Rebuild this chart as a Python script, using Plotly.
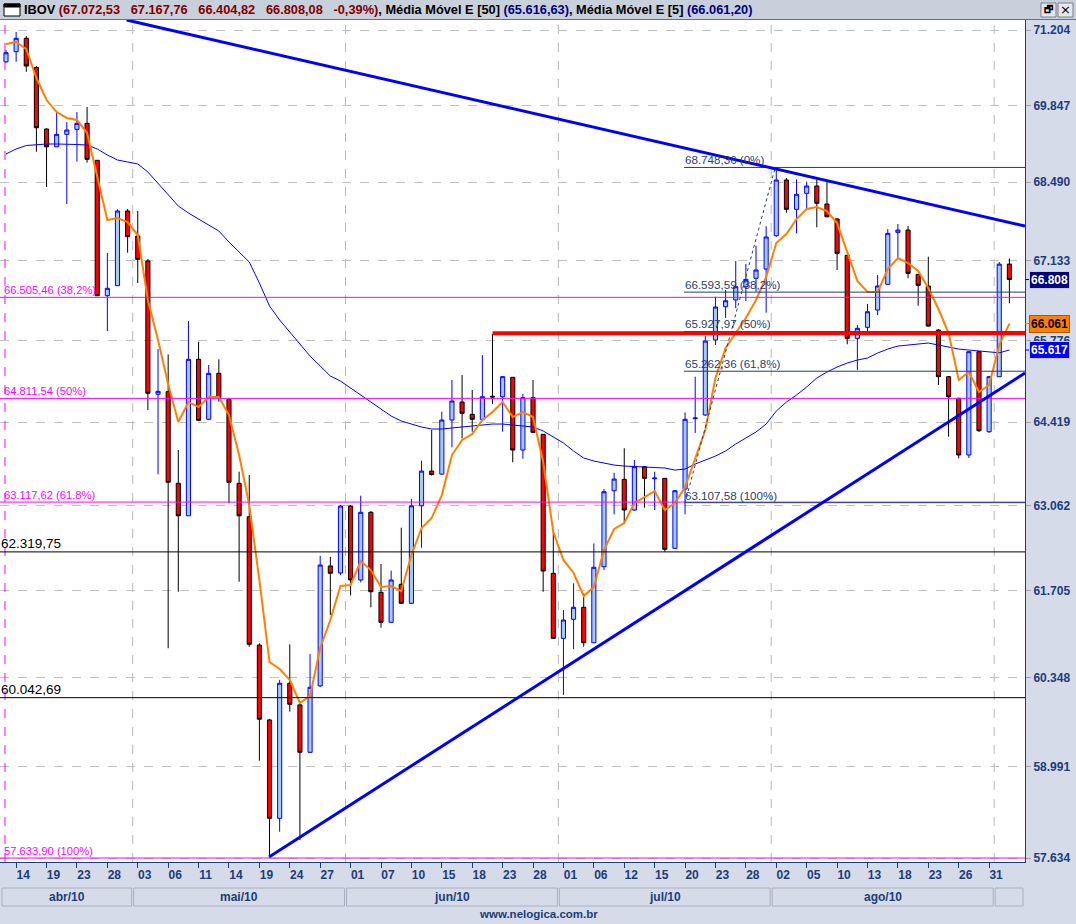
import math
import plotly.graph_objects as go

# ---------------- data ----------------
dates = [
    "2010-04-13", "2010-04-14", "2010-04-15", "2010-04-16", "2010-04-19", "2010-04-20", "2010-04-22", "2010-04-23", "2010-04-26", "2010-04-27",
    "2010-04-28", "2010-04-29", "2010-04-30", "2010-05-03", "2010-05-04", "2010-05-05", "2010-05-06", "2010-05-07", "2010-05-10", "2010-05-11",
    "2010-05-12", "2010-05-13", "2010-05-14", "2010-05-17", "2010-05-18", "2010-05-19", "2010-05-20", "2010-05-21", "2010-05-24", "2010-05-25",
    "2010-05-26", "2010-05-27", "2010-05-28", "2010-05-31", "2010-06-01", "2010-06-02", "2010-06-04", "2010-06-07", "2010-06-08", "2010-06-09",
    "2010-06-10", "2010-06-11", "2010-06-14", "2010-06-15", "2010-06-16", "2010-06-17", "2010-06-18", "2010-06-21", "2010-06-22", "2010-06-23",
    "2010-06-24", "2010-06-25", "2010-06-28", "2010-06-29", "2010-06-30", "2010-07-01", "2010-07-02", "2010-07-05", "2010-07-06", "2010-07-07",
    "2010-07-08", "2010-07-12", "2010-07-13", "2010-07-14", "2010-07-15", "2010-07-16", "2010-07-19", "2010-07-20", "2010-07-21", "2010-07-22",
    "2010-07-23", "2010-07-26", "2010-07-27", "2010-07-28", "2010-07-29", "2010-07-30", "2010-08-02", "2010-08-03", "2010-08-04", "2010-08-05",
    "2010-08-06", "2010-08-09", "2010-08-10", "2010-08-11", "2010-08-12", "2010-08-13", "2010-08-16", "2010-08-17", "2010-08-18", "2010-08-19",
    "2010-08-20", "2010-08-23", "2010-08-24", "2010-08-25", "2010-08-26", "2010-08-27", "2010-08-30", "2010-08-31", "2010-09-01", "2010-09-02",
]

opens = [
    70629, 70810, 71053, 70527, 69426, 69112, 69332, 69420, 69527, 68874,
    66533, 66703, 67988, 67555, 67125, 64879, 64922, 63421, 62897, 65461,
    64466, 65227, 64796, 63421, 62881, 60855, 59702, 58221, 60264, 59932,
    59211, 60223, 62096, 61985, 63054, 61874, 62953, 61680, 61209, 61806,
    61507, 63058, 63619, 63570, 64454, 64751, 64548, 64466, 64846, 64839,
    65161, 63962, 64823, 64219, 61980, 60959, 61256, 61444, 60891, 62085,
    63301, 63485, 62990, 63690, 63495, 63501, 62377, 63328, 64477, 64537,
    65784, 66346, 66460, 66686, 66829, 66988, 67560, 68528, 68017, 68295,
    68423, 68109, 67849, 67223, 65812, 65998, 66290, 66727, 67618, 67658,
    66897, 66698, 65952, 65171, 64813, 63881, 65588, 64262, 65171, 67072.53,
]
highs = [
    70841, 71168, 71095, 70552, 69438, 69728, 69550, 69728, 69817, 68879,
    67262, 68017, 68022, 67988, 67159, 65633, 65544, 63962, 66104, 65755,
    65366, 65461, 64817, 63609, 63555, 60881, 59717, 60315, 60866, 59947,
    60716, 62255, 62239, 63071, 63071, 63220, 62974, 62127, 62021, 62706,
    63167, 63787, 64290, 64591, 65116, 65199, 64950, 65532, 65885, 65182,
    65166, 64884, 65116, 64224, 62642, 61402, 61822, 61664, 62456, 63328,
    63592, 63990, 63799, 63701, 63609, 63506, 63312, 64580, 65171, 65851,
    66516, 66630, 67125, 67074, 67388, 67722, 68748, 68563, 68540, 68498,
    68540, 68498, 67866, 67228, 66036, 66392, 66886, 67675, 67762, 67727,
    66902, 67199, 65969, 65182, 64817, 65599, 65599, 65182, 67108, 67167.76,
]
lows = [
    70606, 70629, 70449, 69025, 68405, 69107, 68109, 68849, 68832, 66528,
    65935, 66703, 67268, 66749, 64619, 63566, 60805, 61689, 62892, 64437,
    64454, 64756, 63098, 61847, 60829, 59084, 57654, 58023, 59829, 57900,
    59201, 60208, 61323, 61953, 61630, 61838, 61444, 61125, 61198, 61496,
    61496, 62386, 63547, 63558, 64006, 64153, 64262, 64454, 64718, 64262,
    63762, 63820, 64241, 61689, 60948, 60085, 60789, 60829, 60887, 62032,
    62920, 62786, 62974, 63027, 62990, 62323, 62366, 62920, 64241, 64520,
    65700, 66155, 66324, 66443, 66601, 66245, 67543, 67958, 67601, 68017,
    67705, 67875, 66971, 65712, 65282, 65923, 66205, 66715, 67171, 66829,
    66363, 66011, 65033, 64180, 63827, 63832, 64257, 64241, 65166, 66404.82,
]
closes = [
    70792, 71053, 70552, 69449, 69112, 69332, 69408, 69527, 68891, 66533,
    66659, 67988, 67543, 67154, 64895, 64928, 63437, 62897, 65461, 64449,
    65227, 64823, 63437, 62897, 60866, 59713, 58221, 60264, 59942, 59211,
    60202, 62111, 61980, 63054, 61874, 62953, 61689, 61209, 61874, 61507,
    63058, 63619, 63563, 64454, 64767, 64565, 64466, 64839, 64834, 65171,
    63962, 64823, 64252, 62016, 60959, 61245, 61444, 60891, 62075, 63285,
    63490, 62990, 63690, 63501, 63506, 62361, 63301, 64466, 64487, 65767,
    66341, 66448, 66686, 66812, 66971, 67538, 68528, 68017, 68278, 68423,
    68121, 67889, 67257, 65812, 65981, 66261, 66698, 67601, 67658, 66914,
    66710, 66019, 65171, 64839, 63881, 65588, 64279, 65171, 67072, 66808.08,
]
ema5 = [
    70950, 70986, 70859, 70336, 69942, 69728, 69622, 69586, 69355, 68616,
    67831, 67866, 67796, 67572, 66460, 65784, 65050, 64421, 64751, 64669,
    64834, 64834, 64536, 63880, 63070, 61874, 60592, 60484, 60315, 59962,
    60069, 60809, 61245, 61779, 61795, 62175, 62032, 61763, 61779, 61700,
    62270, 62701, 62861, 63231, 63880, 64126, 64224, 64454, 64586, 64751,
    64503, 64586, 64503, 63766, 62637, 62191, 61985, 61622, 61763, 62350,
    62685, 62781, 63103, 63199, 63296, 62990, 63103, 63360, 63832, 64290,
    65149, 65650, 65902, 66155, 66460, 66851, 67434, 67589, 67848, 68022,
    68057, 67988, 67779, 67280, 66783, 66596, 66596, 66988, 67176, 67091,
    66954, 66664, 66307, 65902, 65116, 65249, 64917, 65033, 65700, 66061.20,
]
ema50 = [
    68985, 69073, 69134, 69152, 69161, 69161, 69161, 69152, 69143, 69073,
    68967, 68879, 68844, 68809, 68668, 68475, 68266, 68074, 67953, 67849,
    67744, 67641, 67452, 67280, 67108, 66749, 66358, 66121, 65918, 65700,
    65516, 65349, 65182, 65099, 64983, 64867, 64751, 64635, 64520, 64438,
    64388, 64339, 64306, 64306, 64323, 64339, 64356, 64372, 64388, 64388,
    64372, 64356, 64339, 64274, 64175, 64077, 63946, 63832, 63783, 63750,
    63717, 63701, 63693, 63685, 63685, 63669, 63636, 63652, 63734, 63799,
    63864, 63946, 64061, 64159, 64257, 64388, 64602, 64751, 64867, 65000,
    65149, 65249, 65332, 65399, 65449, 65482, 65566, 65633, 65683, 65700,
    65717, 65734, 65700, 65666, 65633, 65616, 65599, 65583, 65570, 65616.63,
]

ytick_vals = [57634, 58991, 60348, 61705, 63062, 64419, 65776, 67133, 68490, 69847, 71204]
ytick_text = ["57.634", "58.991", "60.348", "61.705", "63.062", "64.419", "65.776", "67.133", "68.490", "69.847", "71.204"]
month_names = {4: "abr/10", 5: "mai/10", 6: "jun/10", 7: "jul/10", 8: "ago/10", 9: ""}

fib1_levels = [66505.46, 64811.54, 63117.62, 57633.90]
fib1_labels = ["66.505,46 (38,2%)", "64.811,54 (50%)", "63.117,62 (61,8%)", "57.633,90 (100%)"]
fib2_levels = [68748.36, 66593.59, 65927.97, 65262.36, 63107.58]
fib2_labels = ["68.748,36 (0%)", "66.593,59 (38,2%)", "65.927,97 (50%)", "65.262,36 (61,8%)", "63.107,58 (100%)"]
fib2_start = 66.9
fib2_diag = [(67.0, 63107.58), (75.9, 68748.36)]
support_levels = [62319.75, 60042.69]
support_labels = ["62.319,75", "60.042,69"]
resist_level = 65900
resist_start = 48
trend_down = [(11.9, 71386), (100.54, 67726)]
trend_up = [(25.95, 57649), (100.54, 65232)]

last_close = 66808.08
last_ema5 = 66061.20
last_ema50 = 65616.63

# ---------------- geometry helpers (layout only) ----------------
W, H = 1076, 924
ML, MR, MT, MB = 0, 51, 20, 62
PW, PH = W - ML - MR, H - MT - MB
XR = [-0.592, 100.54]
YR = [4.760235, 4.853613]


def px(p):
    return (p - ML) / PW


def py(p):
    return (H - MB - p) / PH


def ix(i):
    return (i - XR[0]) / (XR[1] - XR[0])


NAVY = "#1b3d7a"
FONT = "Liberation Sans"

x = list(range(len(dates)))
tickvals = list(range(1, 98, 3))
ticktext = [dates[i][8:10] for i in tickvals]

fig = go.Figure()
fig.add_trace(go.Candlestick(
    x=x, open=opens, high=highs, low=lows, close=closes,
    increasing=dict(line=dict(color="#0000ff", width=1), fillcolor="#a6caf0"),
    decreasing=dict(line=dict(color="#000000", width=1), fillcolor="#ff0000"),
    whiskerwidth=0, hoverinfo="skip", showlegend=False,
))
fig.add_trace(go.Scatter(x=x, y=ema50, mode="lines", line=dict(color="#0000ff", width=1),
                         hoverinfo="skip", showlegend=False))
fig.add_trace(go.Scatter(x=x, y=ema5, mode="lines", line=dict(color="#ff8000", width=2),
                         hoverinfo="skip", showlegend=False))

shapes = []
anns = []

# month separator grid lines
month_bounds = [i - 0.5 for i in range(1, len(dates)) if dates[i][5:7] != dates[i - 1][5:7]]
for b in month_bounds:
    shapes.append(dict(type="line", xref="x", yref="paper", x0=b, x1=b, y0=0, y1=1,
                       line=dict(color="#b8b8b8", width=1, dash="dash"), layer="below"))

# fib 1 (magenta)
shapes.append(dict(type="line", xref="x", yref="paper", x0=-0.1, x1=-0.1, y0=0, y1=1,
                   line=dict(color="#ff00ff", width=1, dash="dash"), layer="above"))
for lv, lb in zip(fib1_levels, fib1_labels):
    shapes.append(dict(type="line", xref="paper", yref="y", x0=0, x1=1, y0=lv, y1=lv,
                       line=dict(color="#ff00ff", width=1), layer="above"))
    anns.append(dict(xref="paper", yref="y", x=px(3), y=math.log10(lv), text=lb, showarrow=False,
                     xanchor="left", yanchor="bottom", borderpad=0,
                     font=dict(family=FONT, size=11.2, color="#ff00ff")))

# support lines (black)
for lv, lb in zip(support_levels, support_labels):
    shapes.append(dict(type="line", xref="paper", yref="y", x0=0, x1=1, y0=lv, y1=lv,
                       line=dict(color="#000000", width=1), layer="above"))
    anns.append(dict(xref="paper", yref="y", x=px(0), y=math.log10(lv), text=lb, showarrow=False,
                     xanchor="left", yanchor="bottom", borderpad=0,
                     font=dict(family=FONT, size=13.5, color="#000000")))

# fib 2 (navy)
for lv, lb in zip(fib2_levels, fib2_labels):
    shapes.append(dict(type="line", xref="x", yref="y", x0=fib2_start, x1=XR[1], y0=lv, y1=lv,
                       line=dict(color="#1f3f70", width=1), layer="above"))
    anns.append(dict(xref="x", yref="y", x=fib2_start, y=math.log10(lv), text=lb, showarrow=False,
                     xanchor="left", yanchor="bottom", borderpad=0,
                     font=dict(family=FONT, size=11.6, color="#1f3f70")))
shapes.append(dict(type="line", xref="x", yref="y", x0=fib2_diag[0][0], y0=fib2_diag[0][1],
                   x1=fib2_diag[1][0], y1=fib2_diag[1][1],
                   line=dict(color="#1f3f70", width=1, dash="dot"), layer="above"))

# resistance red line
shapes.append(dict(type="line", xref="x", yref="y", x0=resist_start, x1=XR[1], y0=resist_level,
                   y1=resist_level, line=dict(color="#ff0000", width=4), layer="above"))

# trend lines
for tl in (trend_down, trend_up):
    shapes.append(dict(type="line", xref="x", yref="y", x0=tl[0][0], y0=tl[0][1], x1=tl[1][0],
                       y1=tl[1][1], line=dict(color="#0000ff", width=3), layer="above"))

# header bar
shapes.append(dict(type="rect", xref="paper", yref="paper", x0=px(0), x1=px(W), y0=py(19), y1=py(0),
                   fillcolor="#c8d0dc", line=dict(width=0), layer="below"))
shapes.append(dict(type="line", xref="paper", yref="paper", x0=px(0), x1=px(W), y0=py(19.5), y1=py(19.5),
                   line=dict(color="#707070", width=1)))
# window icon
shapes.append(dict(type="rect", xref="paper", yref="paper", x0=px(4), x1=px(20), y0=py(16), y1=py(4),
                   fillcolor="#ffffff", line=dict(color="#000000", width=1)))
shapes.append(dict(type="rect", xref="paper", yref="paper", x0=px(4), x1=px(20), y0=py(7), y1=py(4),
                   fillcolor="#000000", line=dict(color="#000000", width=1)))
# window buttons
for bx in (1041, 1058):
    shapes.append(dict(type="rect", xref="paper", yref="paper", x0=px(bx), x1=px(bx + 15), y0=py(17),
                       y1=py(3), fillcolor="#e4e8ee", line=dict(color="#808080", width=1)))
anns.append(dict(xref="paper", yref="paper", x=px(1048.5), y=py(10), text="<b>🗗</b>", showarrow=False,
                 xanchor="center", yanchor="middle",
                 font=dict(family="DejaVu Sans", size=10, color="#000000")))
anns.append(dict(xref="paper", yref="paper", x=px(1065.5), y=py(10), text="×", showarrow=False,
                 xanchor="center", yanchor="middle",
                 font=dict(family="DejaVu Sans", size=13, color="#000000")))

hdr = ("<b>IBOV <span style='color:#800000'>(67.072,53\u00a0\u00a0 67.167,76\u00a0\u00a0 66.404,82\u00a0\u00a0 "
       "66.808,08\u00a0\u00a0 -0,39%)</span>, Média Móvel E [50] <span style='color:#000080'>(65.616,63)</span>, "
       "Média Móvel E [5] <span style='color:#000080'>(66.061,20)</span></b>")
anns.append(dict(xref="paper", yref="paper", x=px(22), y=py(10), text=hdr, showarrow=False,
                 xanchor="left", yanchor="middle", font=dict(family=FONT, size=12.8, color="#000000")))

# month boxes
starts = [0] + [i for i in range(1, len(dates)) if dates[i][5:7] != dates[i - 1][5:7]]
ends = starts[1:] + [len(dates)]
for s, e in zip(starts, ends):
    left = max(ix(s - 0.5), px(1))
    right = min(ix(e - 0.5), px(1024))
    if e == len(dates):
        right = px(1024)
    shapes.append(dict(type="rect", xref="paper", yref="paper", x0=left + px(1), x1=right - px(1),
                       y0=py(906), y1=py(888), fillcolor="#d5dbe9",
                       line=dict(color="#a8b0c0", width=1)))
    name = month_names[int(dates[s][5:7])]
    if name:
        anns.append(dict(xref="paper", yref="paper", x=(left + right) / 2, y=py(897), text="<b>" + name + "</b>",
                         showarrow=False, xanchor="center", yanchor="middle",
                         font=dict(family=FONT, size=12, color=NAVY)))

anns.append(dict(xref="paper", yref="paper", x=px(538), y=py(914), text="<b>www.nelogica.com.br</b>",
                 showarrow=False, xanchor="center", yanchor="middle",
                 font=dict(family=FONT, size=11.5, color=NAVY)))

# right-axis value boxes
for val, bg, fg, bc in ((last_close, "#000080", "#ffffff", "#c8c8ff"),
                        (last_ema5, "#ff8000", "#000000", "#b05800"),
                        (last_ema50, "#0000ff", "#ffffff", "#c8c8ff")):
    txt = f"{val:,.0f}".replace(",", ".")
    anns.append(dict(xref="paper", yref="y", x=px(1029), y=math.log10(val), text="<b>" + txt + "</b>",
                     showarrow=False, xanchor="left", yanchor="middle", bgcolor=bg, bordercolor=bc,
                     borderwidth=1, borderpad=1, font=dict(family=FONT, size=12, color=fg)))
    shapes.append(dict(type="line", xref="paper", yref="y", x0=1.0, x1=px(1029), y0=val, y1=val,
                       line=dict(color=bg, width=1)))

fig.update_layout(
    width=W, height=H, margin=dict(l=ML, r=MR, t=MT, b=MB),
    paper_bgcolor="#d5dbe9", plot_bgcolor="#ffffff", showlegend=False,
    boxgap=0.42, shapes=shapes, annotations=anns,
)
fig.update_xaxes(
    range=XR, rangeslider_visible=False, tickmode="array", tickvals=tickvals, ticktext=ticktext,
    ticks="outside", ticklen=5, tickcolor=NAVY, showgrid=False, zeroline=False,
    showline=True, linecolor=NAVY, linewidth=1, ticklabelshift=7, ticklabelstandoff=-3,
    tickfont=dict(family=FONT, size=12, color=NAVY, weight="bold"),
)
fig.update_yaxes(
    type="log", range=YR, side="right", tickmode="array", tickvals=ytick_vals, ticktext=ytick_text,
    ticks="outside", ticklen=5, tickcolor="#a0a0a0", showgrid=True, gridcolor="#c0c0c0",
    griddash="dash", zeroline=False, showline=True, linecolor=NAVY, linewidth=1,
    tickfont=dict(family=FONT, size=12, color=NAVY, weight="bold"),
)

fig.write_html(
    "out.html",
    config={"displayModeBar": False},
    post_script="document.body.style.margin='0px';document.body.style.overflow='hidden';",
)
